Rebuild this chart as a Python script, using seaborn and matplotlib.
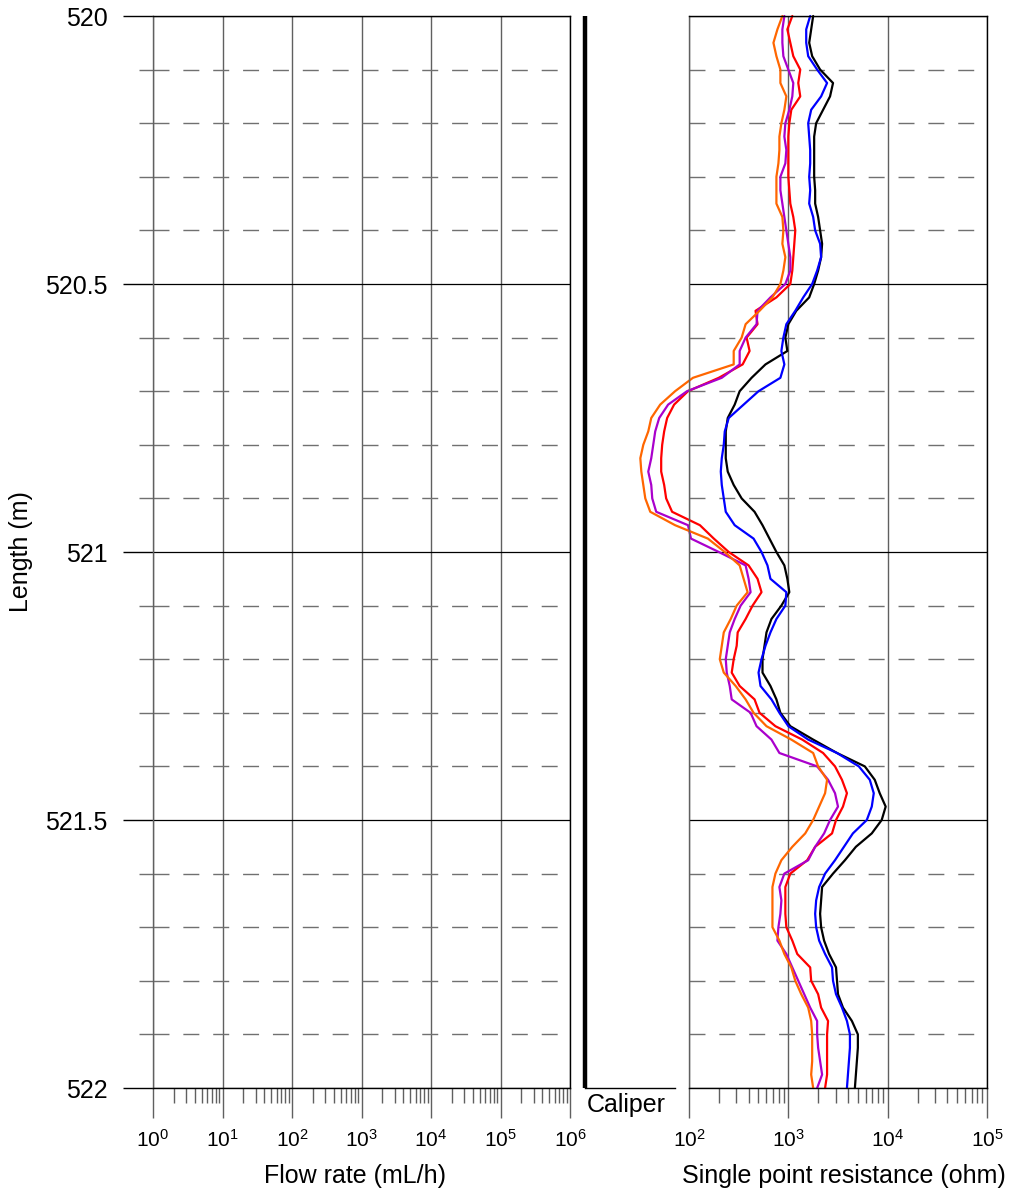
import numpy as np
import pandas as pd
import matplotlib
matplotlib.use("Agg")
import matplotlib.pyplot as plt
import seaborn as sns
from matplotlib.ticker import LogLocator, MultipleLocator, FixedLocator, FixedFormatter, NullFormatter, LogFormatterSciNotation

# ---------------- data ----------------
depth = np.linspace(520.0, 522.0, 81)  # measurement depths (m), 0.025 m step

# single point resistance, log10(ohm)
spr_black = [3.25, 3.23, 3.21, 3.24, 3.32, 3.45, 3.42, 3.35, 3.28, 3.26,
             3.26, 3.26, 3.26, 3.27, 3.27, 3.30, 3.32, 3.34, 3.33, 3.30,
             3.26, 3.21, 3.08, 3.00, 2.97, 2.99, 2.77, 2.63, 2.51, 2.46,
             2.39, 2.37, 2.37, 2.37, 2.39, 2.45, 2.53, 2.66, 2.74, 2.81,
             2.88, 2.96, 2.99, 3.01, 2.93, 2.83, 2.78, 2.76, 2.74, 2.74,
             2.82, 2.88, 2.92, 3.02, 3.25, 3.49, 3.77, 3.87, 3.92, 3.98,
             3.94, 3.84, 3.68, 3.57, 3.45, 3.34, 3.33, 3.32, 3.33, 3.36,
             3.41, 3.48, 3.49, 3.50, 3.55, 3.64, 3.70, 3.70, 3.69, 3.68,
             3.67]
spr_blue = [3.22, 3.18, 3.18, 3.20, 3.29, 3.39, 3.33, 3.23, 3.20, 3.21,
            3.22, 3.22, 3.21, 3.22, 3.21, 3.25, 3.27, 3.32, 3.33, 3.29,
            3.24, 3.15, 3.07, 2.98, 2.95, 2.93, 2.96, 2.92, 2.70, 2.55,
            2.40, 2.36, 2.35, 2.33, 2.32, 2.33, 2.35, 2.37, 2.46, 2.65,
            2.73, 2.79, 2.82, 2.98, 2.97, 2.88, 2.82, 2.77, 2.73, 2.70,
            2.72, 2.83, 2.91, 3.00, 3.20, 3.49, 3.71, 3.82, 3.86, 3.84,
            3.79, 3.65, 3.56, 3.47, 3.37, 3.31, 3.28, 3.27, 3.28, 3.31,
            3.37, 3.44, 3.45, 3.48, 3.54, 3.59, 3.62, 3.62, 3.61, 3.60,
            3.59]
spr_red = [3.04, 2.99, 3.02, 3.05, 3.12, 3.10, 3.12, 3.03, 3.01, 3.00,
           3.00, 3.00, 3.00, 3.01, 3.02, 3.05, 3.07, 3.06, 3.05, 3.04,
           3.02, 2.88, 2.67, 2.69, 2.58, 2.61, 2.54, 2.30, 1.99, 1.85,
           1.78, 1.75, 1.73, 1.72, 1.72, 1.75, 1.77, 1.83, 2.11, 2.25,
           2.40, 2.60, 2.69, 2.73, 2.64, 2.57, 2.49, 2.48, 2.45, 2.43,
           2.51, 2.66, 2.71, 2.87, 3.14, 3.35, 3.47, 3.54, 3.59, 3.55,
           3.48, 3.44, 3.27, 3.19, 3.02, 2.97, 2.97, 2.97, 2.98, 3.04,
           3.09, 3.22, 3.23, 3.30, 3.33, 3.40, 3.39, 3.39, 3.39, 3.39,
           3.37]
spr_purple = [2.96, 2.94, 2.94, 2.95, 3.00, 3.05, 3.04, 3.01, 2.97, 2.96,
              2.98, 2.97, 2.92, 2.92, 2.94, 2.96, 2.98, 3.00, 3.02, 3.02,
              2.97, 2.82, 2.69, 2.68, 2.57, 2.51, 2.51, 2.33, 1.98, 1.79,
              1.70, 1.66, 1.64, 1.62, 1.59, 1.62, 1.63, 1.67, 1.99, 2.02,
              2.30, 2.57, 2.60, 2.62, 2.52, 2.46, 2.41, 2.39, 2.37, 2.38,
              2.41, 2.43, 2.62, 2.68, 2.83, 2.91, 3.29, 3.40, 3.47, 3.50,
              3.42, 3.36, 3.27, 3.20, 2.96, 2.91, 2.93, 2.92, 2.90, 2.89,
              2.98, 3.04, 3.10, 3.16, 3.22, 3.29, 3.29, 3.30, 3.32, 3.34,
              3.29]
spr_orange = [2.94, 2.89, 2.85, 2.88, 2.92, 2.92, 2.98, 2.96, 2.93, 2.91,
              2.91, 2.90, 2.88, 2.88, 2.88, 2.94, 2.95, 2.94, 2.97, 2.95,
              2.92, 2.84, 2.71, 2.57, 2.53, 2.45, 2.45, 2.04, 1.86, 1.71,
              1.62, 1.59, 1.54, 1.51, 1.52, 1.54, 1.56, 1.61, 1.86, 2.19,
              2.36, 2.51, 2.55, 2.59, 2.48, 2.42, 2.35, 2.33, 2.31, 2.35,
              2.47, 2.57, 2.65, 2.78, 3.03, 3.25, 3.30, 3.39, 3.37, 3.31,
              3.25, 3.17, 3.04, 2.93, 2.87, 2.84, 2.84, 2.84, 2.84, 2.91,
              2.96, 3.03, 3.07, 3.13, 3.20, 3.23, 3.24, 3.24, 3.24, 3.23,
              3.25]

run_names = ["black", "blue", "red", "purple", "orange"]
run_colors = ["#000000", "#0000FF", "#FF0000", "#AA00CC", "#FF6600"]

caliper_depth = [520.0, 522.0]
caliper_value = [0.0, 0.0]

y_major = [520.0, 520.5, 521.0, 521.5, 522.0]
y_major_labels = ["520", "520.5", "521", "521.5", "522"]

flow_lim = (1e0, 1e6)
spr_lim = (1e2, 1e5)

# ---------------- style ----------------
sns.set_style("white")
plt.rcParams["font.family"] = ["Liberation Sans", "DejaVu Sans"]
plt.rcParams["mathtext.fontset"] = "custom"
plt.rcParams["mathtext.rm"] = "Liberation Sans"
plt.rcParams["mathtext.it"] = "Liberation Sans:italic"
plt.rcParams["mathtext.bf"] = "Liberation Sans:bold"
plt.rcParams["text.color"] = "black"
plt.rcParams["axes.labelcolor"] = "black"
plt.rcParams["xtick.labelcolor"] = "black"
plt.rcParams["ytick.labelcolor"] = "black"

W, H = 1016, 1193
fig = plt.figure(figsize=(W / 100, H / 100), dpi=100)

def rect(x0, x1, y0=16, y1=1088):
    return [x0 / W, 1 - y1 / H, (x1 - x0) / W, (y1 - y0) / H]

ax_f = fig.add_axes(rect(153, 570))
ax_c = fig.add_axes(rect(585, 675))
ax_r = fig.add_axes(rect(689, 987))

GRID_GREY = "#606060"
DASH_GREY = "#707070"

def style_depth_axis(ax, xlim, show_y):
    ax.set_xscale("log")
    ax.set_xlim(*xlim)
    ax.set_ylim(522, 520)
    ax.set_axisbelow(True)
    ax.xaxis.set_major_locator(LogLocator(base=10, numticks=20))
    ax.xaxis.set_minor_locator(LogLocator(base=10, subs=np.arange(2, 10), numticks=20))
    ax.xaxis.set_major_formatter(LogFormatterSciNotation())
    ax.xaxis.set_minor_formatter(NullFormatter())
    ax.yaxis.set_major_locator(FixedLocator(y_major))
    ax.yaxis.set_major_formatter(FixedFormatter(y_major_labels))
    ax.yaxis.set_minor_locator(MultipleLocator(0.1))
    ax.grid(True, which="major", axis="x", color=GRID_GREY, lw=1.0, ls="-")
    ax.grid(True, which="major", axis="y", color="black", lw=0.9, ls="-")
    ax.grid(True, which="minor", axis="y", color=DASH_GREY, lw=1.0, ls=(0, (11.5, 10)))
    ax.tick_params(axis="x", which="major", direction="out", length=21.6, width=1.0,
                   color=GRID_GREY, pad=8, labelsize=15, labelcolor="black", bottom=True)
    ax.tick_params(axis="x", which="minor", direction="out", length=10.8, width=1.0,
                   color=GRID_GREY, bottom=True)
    if show_y:
        ax.tick_params(axis="y", which="major", direction="out", length=21.6, width=1.0,
                       color="black", pad=11, labelsize=18, labelcolor="black", left=True)
        ax.tick_params(axis="y", which="minor", direction="out", length=10.0, width=1.0,
                       color=DASH_GREY, left=True)
    else:
        ax.tick_params(axis="y", which="both", length=0, labelleft=False)
    for side in ["top", "right", "bottom"]:
        ax.spines[side].set_visible(True)
        ax.spines[side].set_color("black")
        ax.spines[side].set_linewidth(1.0)
    ax.spines["left"].set_color(GRID_GREY)
    ax.spines["left"].set_linewidth(1.0)

# ---- flow rate panel (empty) ----
style_depth_axis(ax_f, flow_lim, True)
ax_f.set_xlabel("Flow rate (mL/h)", fontsize=18, color="black")
ax_f.xaxis.set_label_coords((355 - 153) / 417, -0.071)
ax_f.set_ylabel("Length (m)", fontsize=18, color="black")
ax_f.yaxis.set_label_coords((33 - 153) / 417, 0.5)

# ---- caliper panel ----
sns.lineplot(x=caliper_value, y=caliper_depth, ax=ax_c, color="black", lw=3.2,
             orient="y", sort=False, estimator=None)
ax_c.set_xlim(0, 1)
ax_c.set_ylim(522, 520)
for line in ax_c.lines:
    line.set_clip_on(False)
    line.set_solid_capstyle("butt")
for side in ["top", "right", "left"]:
    ax_c.spines[side].set_visible(False)
ax_c.spines["bottom"].set_color("black")
ax_c.spines["bottom"].set_linewidth(1.0)
ax_c.set_xticks([])
ax_c.set_yticks([])
ax_c.set_xlabel("")
ax_c.set_ylabel("")
ax_c.text((626.5 - 585) / 90, -0.0045, "Caliper", transform=ax_c.transAxes,
          ha="center", va="top", fontsize=18, color="black")

# ---- single point resistance panel ----
df = pd.DataFrame({
    "depth": np.tile(depth, 5),
    "log_r": np.concatenate([spr_black, spr_blue, spr_red, spr_purple, spr_orange]),
    "run": np.repeat(run_names, len(depth)),
})
df["resistance"] = 10 ** df["log_r"]
sns.lineplot(data=df, x="resistance", y="depth", hue="run", hue_order=run_names,
             palette=dict(zip(run_names, run_colors)), sort=False, estimator=None,
             orient="y", legend=False, lw=1.6, ax=ax_r)
style_depth_axis(ax_r, spr_lim, False)
for line in ax_r.lines:
    line.set_clip_on(False)
ax_r.set_ylabel("")
ax_r.set_xlabel("Single point resistance (ohm)", fontsize=18, color="black")
ax_r.xaxis.set_label_coords((843.5 - 689) / 298, -0.071)

fig.savefig("out.png", dpi=100)
